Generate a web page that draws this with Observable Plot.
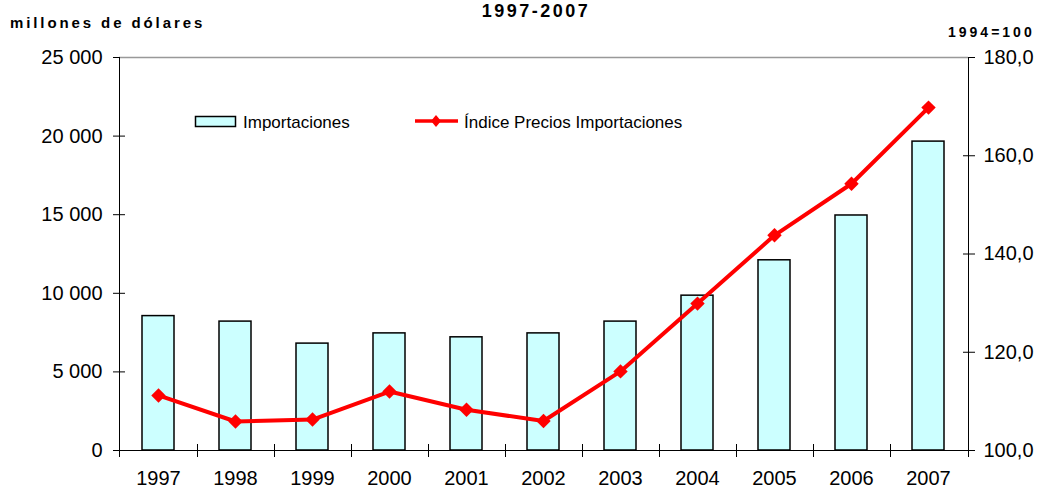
<!DOCTYPE html>
<html><head><meta charset="utf-8">
<script src="https://cdn.jsdelivr.net/npm/d3@7"></script>
<script src="https://cdn.jsdelivr.net/npm/@observablehq/plot@0.6"></script>
<style>
body{margin:0;background:#fff;}
#chart{width:1040px;height:488px;overflow:hidden;}
</style></head><body>
<div id="chart"></div>
<script>
const years = ["1997","1998","1999","2000","2001","2002","2003","2004","2005","2006","2007"];
const importaciones = [8550, 8200, 6800, 7450, 7200, 7450, 8200, 9850, 12100, 14950, 19650];
const indicePrecios = [111.2, 105.9, 106.3, 112.0, 108.3, 106.0, 116.1, 129.9, 143.8, 154.3, 169.8];
const leftTicks = [0, 5000, 10000, 15000, 20000, 25000];
const rightTicks = [100, 120, 140, 160, 180];
const titleText = "1997-2007";
const leftUnit = "millones de dólares";
const rightUnit = "1994=100";
const seriesBar = "Importaciones";
const seriesLine = "Índice Precios Importaciones";

const LEFT_MAX = 25000, RIGHT_MIN = 100, RIGHT_MAX = 180;
const toLeft = v => (v - RIGHT_MIN) / (RIGHT_MAX - RIGHT_MIN) * LEFT_MAX;
const fromLeft = d => RIGHT_MIN + d / LEFT_MAX * (RIGHT_MAX - RIGHT_MIN);
const fmtLeft = d => d3.format(",")(d).replace(/,/g, " ");
const fmtRight = d => (Math.round(fromLeft(d) * 10) / 10).toFixed(1).replace(".", ",");

const bars = years.map((year, i) => ({year, value: importaciones[i]}));
const linePts = years.map((year, i) => ({year, index: indicePrecios[i], y: toLeft(indicePrecios[i])}));

const FONT = '"Liberation Sans", Arial, sans-serif';

function decorations(index, scales, values, dims) {
  const {width, height, marginLeft: ml, marginRight: mr, marginTop: mt, marginBottom: mb} = dims;
  const x0 = ml, x1 = width - mr, y0 = mt, y1 = height - mb;
  const g = d3.create("svg:g").attr("font-family", FONT).attr("text-anchor", "start");
  // frame
  g.append("line").attr("x1", x0).attr("x2", x1).attr("y1", y0 + 0.5).attr("y2", y0 + 0.5).attr("stroke", "#999").attr("stroke-width", 1.5);
  g.append("line").attr("x1", x0 + 0.5).attr("x2", x0 + 0.5).attr("y1", y0).attr("y2", y1).attr("stroke", "#000");
  g.append("line").attr("x1", x1 + 0.5).attr("x2", x1 + 0.5).attr("y1", y0).attr("y2", y1).attr("stroke", "#000");
  g.append("line").attr("x1", x0).attr("x2", x1).attr("y1", y1 + 0.5).attr("y2", y1 + 0.5).attr("stroke", "#000");
  // category boundary ticks
  const x = scales.x;
  const bw = x.bandwidth ? x.bandwidth() : 0;
  const bounds = [x0];
  for (let i = 0; i < years.length - 1; i++) bounds.push((x(years[i]) + bw + x(years[i + 1])) / 2);
  bounds.push(x1);
  for (const b of bounds) {
    g.append("line").attr("x1", Math.round(b) + 0.5).attr("x2", Math.round(b) + 0.5)
      .attr("y1", y1 - 6).attr("y2", y1 + 7).attr("stroke", "#000");
  }
  // titles
  g.append("text").attr("x", 536).attr("y", 17).attr("text-anchor", "middle")
    .attr("font-weight", "bold").attr("font-size", 18).attr("letter-spacing", 2.5).text(titleText);
  g.append("text").attr("x", 10).attr("y", 28).attr("text-anchor", "start")
    .attr("font-weight", "bold").attr("font-size", 15).attr("letter-spacing", 2.9).text(leftUnit);
  g.append("text").attr("x", 948).attr("y", 37).attr("text-anchor", "start")
    .attr("font-weight", "bold").attr("font-size", 14).attr("letter-spacing", 3).text(rightUnit);
  // legend
  g.append("rect").attr("x", 195.5).attr("y", 116.5).attr("width", 40).attr("height", 10)
    .attr("fill", "#ccffff").attr("stroke", "#000").attr("stroke-width", 1.5);
  g.append("text").attr("x", 243).attr("y", 127.5).attr("text-anchor", "start").attr("font-size", 17).text(seriesBar);
  g.append("line").attr("x1", 415).attr("x2", 458).attr("y1", 121).attr("y2", 121)
    .attr("stroke", "#ff0000").attr("stroke-width", 3.5);
  g.append("path").attr("d", "M436,115L441,121L436,127L431,121Z").attr("fill", "#ff0000");
  g.append("text").attr("x", 464).attr("y", 127.5).attr("text-anchor", "start").attr("font-size", 17).text(seriesLine);
  return g.node();
}

const chart = Plot.plot({
  width: 1040, height: 488,
  marginLeft: 119, marginRight: 72, marginTop: 57, marginBottom: 38,
  style: {fontFamily: FONT, fontSize: "20px", color: "#000", background: "#fff", overflow: "visible"},
  x: {type: "band", domain: years, paddingInner: 0.58, paddingOuter: 0.29},
  y: {domain: [0, LEFT_MAX]},
  marks: [
    Plot.barY(bars, {x: "year", y: "value", fill: "#ccffff", stroke: "#000", strokeWidth: 1.5}),
    Plot.axisY({anchor: "left", ticks: leftTicks, tickFormat: fmtLeft, tickSize: 12, dx: 6, tickPadding: 11, label: null, fontSize: 20}),
    Plot.axisY({anchor: "right", ticks: rightTicks.map(toLeft), tickFormat: fmtRight, tickSize: 12, dx: -6, tickPadding: 9, label: null, fontSize: 20}),
    Plot.axisX({anchor: "bottom", tickSize: 0, tickPadding: 20, label: null, fontSize: 20}),
    decorations,
    Plot.line(linePts, {x: "year", y: "y", stroke: "#ff0000", strokeWidth: 4}),
    Plot.dot(linePts, {x: "year", y: "y", symbol: "diamond2", r: 6.5, fill: "#ff0000", stroke: "none"})
  ]
});
document.getElementById("chart").appendChild(chart);
</script>
</body></html>
